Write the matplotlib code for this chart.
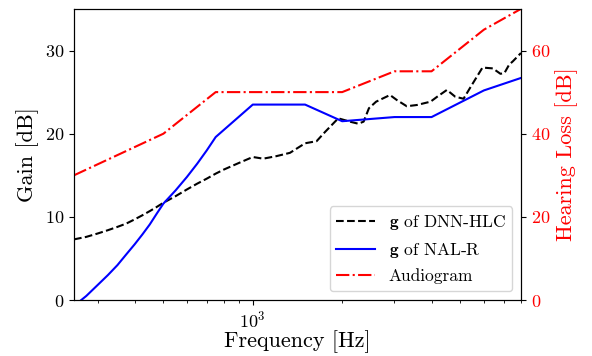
import matplotlib
matplotlib.use('Agg')
import matplotlib.pyplot as plt

plt.rcParams['font.family'] = 'serif'
plt.rcParams['font.serif'] = ['cmr10']
plt.rcParams['mathtext.fontset'] = 'cm'
plt.rcParams['axes.formatter.use_mathtext'] = True

# gain of the DNN-HLC
dnn_freq = [250, 275, 300, 325, 350, 375, 400, 425, 450, 475, 500, 550, 600, 650, 700,
            750, 800, 900, 1000, 1084, 1200, 1334, 1500, 1640, 1750, 1940, 2030, 2150,
            2266, 2362, 2461, 2602, 2898, 3055, 3300, 3570, 3968, 4180, 4505, 4804,
            5125, 5475, 5937, 6430, 6825, 7040, 7300, 7512, 8000]
dnn_gain = [7.3, 7.6, 8.0, 8.4, 8.8, 9.2, 9.7, 10.2, 10.7, 11.2, 11.7, 12.5, 13.3, 14.0, 14.6,
            15.2, 15.7, 16.5, 17.2, 17.0, 17.3, 17.7, 18.85, 19.1, 20.2, 21.85, 21.65, 21.4,
            21.2, 21.45, 23.06, 23.85, 24.65, 24.05, 23.3, 23.45, 23.85, 24.45, 25.26, 24.45,
            24.2, 25.9, 27.95, 27.85, 27.2, 27.3, 28.3, 28.7, 29.7]

# gain of NAL-R
nal_freq = [250, 275, 300, 325, 350, 375, 400, 425, 450, 475, 500, 550, 600, 650, 700,
            750, 1000, 1500, 2000, 3000, 4000, 6000, 8000]
nal_gain = [-0.7, 0.5, 1.8, 3.0, 4.2, 5.5, 6.7, 7.9, 9.1, 10.4, 11.6, 13.2, 14.8, 16.4, 18.0,
            19.6, 23.5, 23.5, 21.5, 22.0, 22.0, 25.2, 26.7]

# audiogram
aud_freq = [250, 500, 750, 1000, 1500, 2000, 3000, 4000, 6000, 8000]
aud_loss = [30, 40, 50, 50, 50, 50, 55, 55, 65, 70]

fig = plt.figure(figsize=(5.92, 3.56), dpi=100)
ax = fig.add_axes([0.125, 0.157, 0.755, 0.818])
ax2 = ax.twinx()

l1, = ax.plot(dnn_freq, dnn_gain, 'k--', lw=1.5, label=r'$\mathbf{g}$ of DNN-HLC')
l2, = ax.plot(nal_freq, nal_gain, 'b-', lw=1.5, label=r'$\mathbf{g}$ of NAL-R')
l3, = ax2.plot(aud_freq, aud_loss, 'r-.', lw=1.5, label='Audiogram')

ax.set_xscale('log')
ax.set_xlim(250, 8000)
ax.set_ylim(0, 35)
ax2.set_ylim(0, 70)
ax.set_yticks([0, 10, 20, 30])
ax2.set_yticks([0, 20, 40, 60])

ax.set_xlabel('Frequency [Hz]', fontsize=16, labelpad=0)
ax.set_ylabel('Gain [dB]', fontsize=16)
ax2.set_ylabel('Hearing Loss [dB]', fontsize=16, color='red')
ax.tick_params(labelsize=13)
ax2.tick_params(labelsize=13, labelcolor='red')

ax.legend(handles=[l1, l2, l3], loc='lower right', fontsize=12.5, handlelength=2.2)

fig.savefig('out.png', dpi=100)
